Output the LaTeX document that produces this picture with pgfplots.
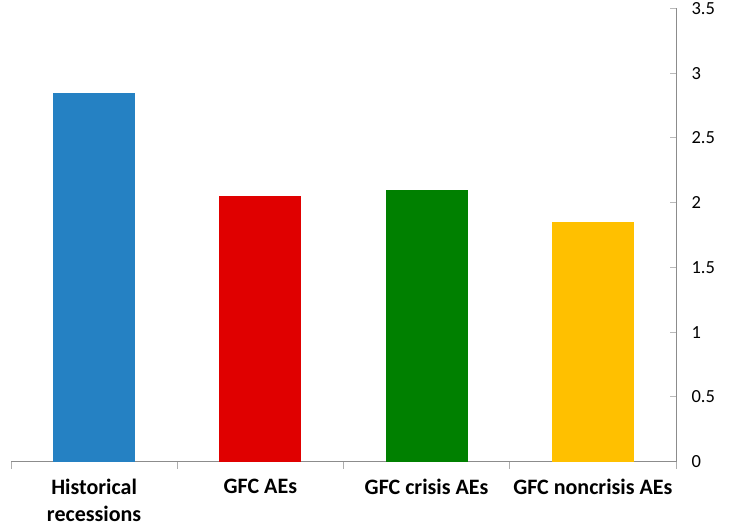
\documentclass[border=0pt]{standalone}
\usepackage{fontspec}
\setmainfont{Carlito}
\usepackage{pgfplots}
\pgfplotsset{compat=1.18}
\definecolor{barblue}{HTML}{2581C3}
\definecolor{barred}{HTML}{E00000}
\definecolor{bargreen}{HTML}{008000}
\definecolor{bargold}{HTML}{FFC000}
\definecolor{axisgray}{HTML}{8C8C8C}
\begin{document}
\begin{tikzpicture}[x=1bp,y=1bp]
\useasboundingbox (-11bp,-68.5bp) rectangle (725bp,461.5bp);
\begin{axis}[
  at={(0,0)}, anchor=south west,
  scale only axis,
  width=665bp, height=453bp,
  xmin=-0.5, xmax=3.5,
  ymin=0, ymax=3.5,
  axis x line*=bottom,
  axis y line*=right,
  axis line style={axisgray, line width=1bp},
  xtick={0,1,2,3},
  xticklabels={Historical\\recessions, GFC AEs, GFC crisis AEs, GFC noncrisis AEs},
  major x tick style={draw=none},
  minor xtick={-0.5,0.5,1.5,2.5,3.5},
  minor x tick style={axisgray!70, line width=1bp},
  minor tick length=7bp,
  xticklabel style={font=\fontsize{22bp}{27bp}\selectfont\bfseries, align=center, anchor=north, yshift=-8bp},
  ytick={0,0.5,...,3.5},
  ytick style={axisgray!60, line width=1bp},
  major tick length=6bp,
  tick align=inside,
  yticklabel style={font=\fontsize{18.5bp}{20bp}\selectfont, anchor=west, xshift=12bp},
  /pgf/number format/assume math mode=true,
  /pgf/number format/fixed,
  ybar, bar width=0.494,
  bar shift=0pt,
  clip=false,
]
\addplot[fill=barblue, draw=none] coordinates {(0,2.85)};
\addplot[fill=barred, draw=none] coordinates {(1,2.05)};
\addplot[fill=bargreen, draw=none] coordinates {(2,2.10)};
\addplot[fill=bargold, draw=none] coordinates {(3,1.85)};
\end{axis}
\end{tikzpicture}
\end{document}
